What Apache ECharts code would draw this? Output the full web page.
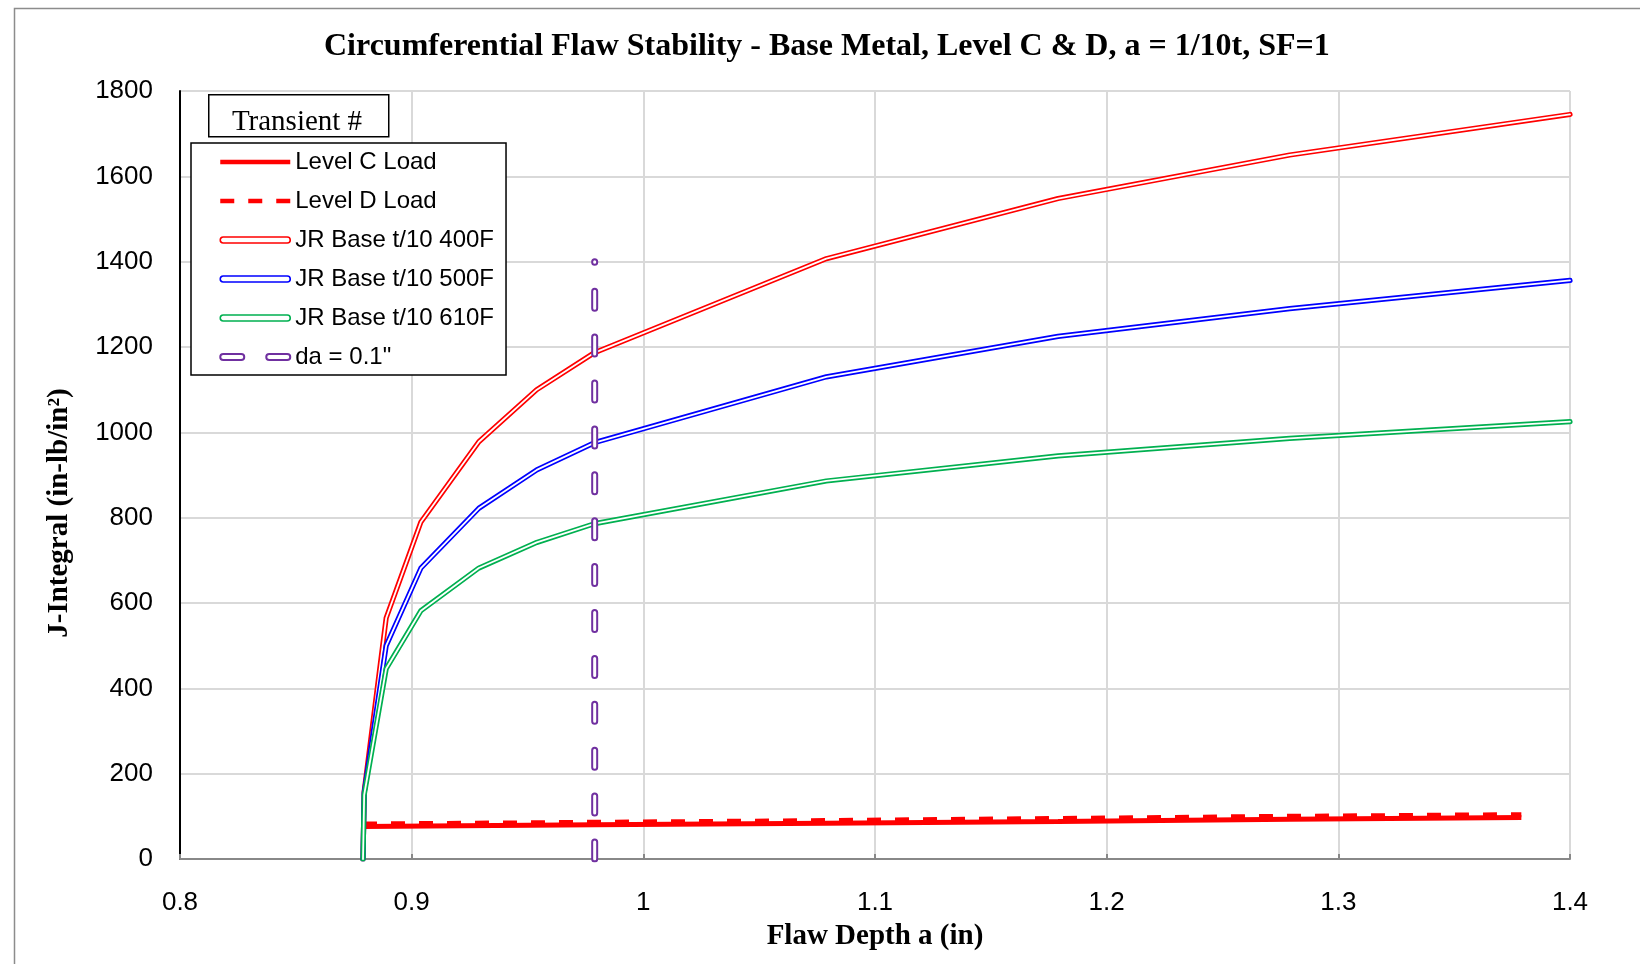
<!DOCTYPE html>
<html>
<head>
<meta charset="utf-8">
<script src="https://cdn.jsdelivr.net/npm/echarts@6/dist/echarts.min.js"></script>
<style>
html,body{margin:0;padding:0;background:#fff;}
#chart{width:1640px;height:964px;}
</style>
</head>
<body>
<div id="chart"></div>
<script>
// ---- data ----
const titleText = 'Circumferential Flaw Stability - Base Metal, Level C & D, a = 1/10t, SF=1';
const xTitle = 'Flaw Depth a (in)';
const yTitle = 'J-Integral (in-lb/in\u00B2)';
const seriesNames = ['Level C Load', 'Level D Load', 'JR Base t/10 400F', 'JR Base t/10 500F', 'JR Base t/10 610F', 'da = 0.1"'];

const loadX = [0.879, 0.979, 1.079, 1.179, 1.279, 1.379];
const levelC = [76, 80, 84, 88, 93, 97];
const levelD = [82, 86, 90, 95, 100, 104];

const jrX = [0.879, 0.8795, 0.889, 0.904, 0.929, 0.954, 0.979, 1.079, 1.179, 1.279, 1.4];
const jr400 = [0, 158, 565, 790, 978, 1100, 1187, 1407, 1548, 1650, 1745];
const jr500 = [0, 155, 500, 682, 822, 912, 976, 1130, 1225, 1290, 1356];
const jr610 = [0, 150, 446, 582, 682, 742, 786, 886, 945, 986, 1025];

const daX = [0.979, 0.979];
const daY = [0, 1400];

// ---- build ----
const pairs = (xs, ys) => xs.map((x, i) => [x, ys[i]]);
const narrow = '"Liberation Sans Narrow", "Arial Narrow", "Liberation Sans", Arial, sans-serif';
const serif = '"Liberation Serif", "Times New Roman", Times, serif';

function doubleLine(name, data, color) {
  return [
    {name, type: 'line', data, showSymbol: false, symbol: 'none', animation: false,
     lineStyle: {color, width: 5.2, join: 'round', cap: 'round'}, itemStyle: {color}},
    {name, type: 'line', data, showSymbol: false, symbol: 'none', animation: false,
     lineStyle: {color: '#ffffff', width: 1.8, join: 'round', cap: 'round'}, itemStyle: {color: '#ffffff'}}
  ];
}

const capsule = 'path://M3,0L67,0A3,3,0,0,1,67,6L3,6A3,3,0,0,1,3,0Z';
const twoCapsules = 'path://M3,0L21,0A3,3,0,0,1,21,6L3,6A3,3,0,0,1,3,0Z M49,0L67,0A3,3,0,0,1,67,6L49,6A3,3,0,0,1,49,0Z';

const chart = echarts.init(document.getElementById('chart'), null, {renderer: 'canvas'});
chart.setOption({
  animation: false,
  backgroundColor: '#ffffff',
  title: {
    text: titleText, left: 324, top: 31, padding: 0,
    textStyle: {fontFamily: serif, fontWeight: 'bold', fontSize: 32, color: '#000'}
  },
  grid: {left: 180, top: 91, right: 70, bottom: 105, containLabel: false},
  xAxis: {
    type: 'value', min: 0.8, max: 1.4, interval: 0.1,
    name: xTitle, nameLocation: 'middle', nameGap: 63,
    nameTextStyle: {fontFamily: serif, fontWeight: 'bold', fontSize: 29, color: '#000'},
    axisLine: {lineStyle: {color: '#888', width: 2}},
    axisTick: {show: true, inside: true, length: 5, lineStyle: {color: '#888', width: 2}},
    axisLabel: {margin: 31, fontFamily: narrow, fontSize: 26, color: '#000'},
    splitLine: {show: true, lineStyle: {color: '#d9d9d9', width: 2}}
  },
  yAxis: {
    type: 'value', min: 0, max: 1800, interval: 200,
    axisLine: {show: true, lineStyle: {color: '#000', width: 2}},
    axisTick: {show: false},
    axisLabel: {margin: 27, fontFamily: narrow, fontSize: 26, color: '#000', formatter: (v) => String(v)},
    splitLine: {show: true, lineStyle: {color: '#d9d9d9', width: 2}}
  },
  legend: {
    orient: 'vertical', left: 191, top: 143,
    padding: [5, 12, 4, 27], itemGap: 11, itemWidth: 70, itemHeight: 6,
    borderColor: '#000', borderWidth: 1.5, backgroundColor: '#fff',
    textStyle: {fontFamily: narrow, fontSize: 24, color: '#000', lineHeight: 28},
    selectedMode: false,
    data: [
      {name: seriesNames[0], itemStyle: {opacity: 0}, lineStyle: {width: 4.5, color: '#ff0000'}},
      {name: seriesNames[1], itemStyle: {opacity: 0}, lineStyle: {width: 4.5, color: '#ff0000', type: [14, 14]}},
      {name: seriesNames[2], icon: capsule, itemStyle: {color: '#fff', borderColor: '#ff0000', borderWidth: 1.6}},
      {name: seriesNames[3], icon: capsule, itemStyle: {color: '#fff', borderColor: '#0000ff', borderWidth: 1.6}},
      {name: seriesNames[4], icon: capsule, itemStyle: {color: '#fff', borderColor: '#00b050', borderWidth: 1.6}},
      {name: seriesNames[5], icon: twoCapsules, itemStyle: {color: '#fff', borderColor: '#7030a0', borderWidth: 2}}
    ]
  },
  graphic: [
    {type: 'rect', left: 12, top: 6, shape: {width: 1700, height: 1000}, silent: true, z: -10,
     style: {fill: 'none', stroke: '#8c8c8c', lineWidth: 1.5}},
    {type: 'rect', left: 208, top: 94, shape: {width: 180, height: 42}, z: 100,
     style: {fill: '#fff', stroke: '#000', lineWidth: 1.5}},
    {type: 'text', x: 297, y: 122, z: 101,
     style: {text: 'Transient #', fontFamily: serif, fontSize: 29, fill: '#000', align: 'center', verticalAlign: 'middle'}},
    {type: 'text', x: 60, y: 513, rotation: Math.PI / 2, z: 101,
     style: {text: yTitle, fontFamily: serif, fontWeight: 'bold', fontSize: 29, fill: '#000', align: 'center', verticalAlign: 'middle'}}
  ],
  series: [
    {name: seriesNames[0], type: 'line', data: pairs(loadX, levelC), showSymbol: false, symbol: 'none',
     lineStyle: {color: '#ff0000', width: 5}, itemStyle: {color: '#ff0000'}},
    {name: seriesNames[1], type: 'line', data: pairs(loadX, levelD), showSymbol: false, symbol: 'none',
     lineStyle: {color: '#ff0000', width: 5, type: [14, 14]}, itemStyle: {color: '#ff0000'}},
    ...doubleLine(seriesNames[2], pairs(jrX, jr400), '#ff0000'),
    ...doubleLine(seriesNames[3], pairs(jrX, jr500), '#0000ff'),
    ...doubleLine(seriesNames[4], pairs(jrX, jr610), '#00b050'),
    {name: seriesNames[5], type: 'line', data: pairs(daX, daY), showSymbol: false, symbol: 'none',
     lineStyle: {color: '#7030a0', width: 7, type: [17, 28.9], cap: 'round'}, itemStyle: {color: '#7030a0'}},
    {name: seriesNames[5], type: 'line', data: pairs(daX, daY), showSymbol: false, symbol: 'none',
     lineStyle: {color: '#ffffff', width: 3, type: [17, 28.9], cap: 'round'}, itemStyle: {color: '#ffffff'}}
  ]
});
</script>
</body>
</html>
